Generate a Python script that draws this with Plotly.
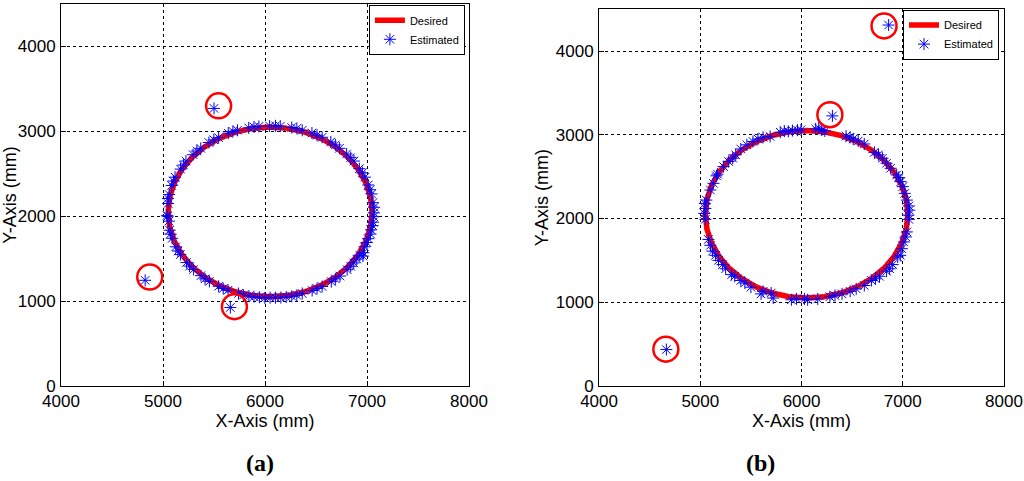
import plotly.graph_objects as go
from plotly.subplots import make_subplots

# desired trajectory (same in both panels)
desired_x = [7050, 7035, 6990, 6916, 6816, 6693, 6550, 6392, 6224, 6050, 5876, 5708,
             5550, 5407, 5284, 5184, 5110, 5065, 5050, 5065, 5110, 5184, 5284, 5407,
             5550, 5708, 5876, 6050, 6224, 6392, 6550, 6693, 6816, 6916, 6990, 7035, 7050]
desired_y = [2050, 2224, 2392, 2550, 2693, 2816, 2916, 2990, 3035, 3050, 3035, 2990,
             2916, 2816, 2693, 2550, 2392, 2224, 2050, 1876, 1708, 1550, 1407, 1284,
             1184, 1110, 1065, 1050, 1065, 1110, 1184, 1284, 1407, 1550, 1708, 1876, 2050]

# panel (a) estimated points
est_a_x = [7068, 7058, 7045, 7012, 6980, 6925, 6872, 6800, 6730, 6645, 6560, 6460, 6365,
           6262, 6150, 6045, 5940, 5840, 5730, 5640, 5545, 5450, 5370, 5295, 5225, 5172,
           5118, 5085, 5060, 5050, 5040, 5058, 5065, 5090, 5125, 5170, 5230, 5300, 5372,
           5455, 5545, 5638, 5740, 5842, 5945, 6050, 6155, 6262, 6365, 6462, 6560, 6650,
           6735, 6805, 6870, 6930, 6975, 7012, 7040, 7060,
           7070, 7030, 6955, 6840, 6690, 6510, 6312, 6103, 5892, 5685, 5498, 5332, 5200,
           5102, 5048, 5045, 5072, 5146, 5260, 5412, 5590, 5788, 5892, 5998, 6103, 6208,
           6312, 6510, 6690, 6840, 6900, 6960, 6965, 6998, 7035, 7055, 7065]
est_a_y = [2040, 2160, 2262, 2368, 2460, 2560, 2650, 2733, 2800, 2875, 2930, 2980, 3012,
           3045, 3060, 3062, 3058, 3040, 3012, 2978, 2925, 2868, 2800, 2725, 2650, 2555,
           2460, 2362, 2255, 2150, 2010, 1942, 1835, 1740, 1640, 1548, 1455, 1372, 1300,
           1232, 1175, 1128, 1090, 1060, 1045, 1040, 1042, 1058, 1090, 1125, 1172, 1230,
           1295, 1370, 1450, 1540, 1640, 1735, 1840, 1930,
           2105, 2312, 2512, 2690, 2840, 2955, 3035, 3065, 3052, 3000, 2900, 2768, 2603,
           2415, 2210, 2000, 1790, 1590, 1412, 1262, 1148, 1070, 1052, 1038, 1040, 1048,
           1068, 1148, 1262, 1410, 1495, 1530, 1570, 1690, 1790, 1890, 1995]
# panel (a) outliers and their marking circles
out_a_x = [5500, 4825, 5660]
out_a_y = [3270, 1245, 925]
ring_a_x = [5545, 4870, 5700]
ring_a_y = [3300, 1285, 935]

# panel (b) estimated points
est_b_x = [5790, 5830, 5870, 5910, 5960, 5995, 6140, 6170, 6200, 6230,
           6440, 6480, 6510, 6560, 6620, 6720, 6760, 6800, 6840, 6880,
           6940, 6960, 6980, 7000, 7020, 7040, 7060, 7065, 7055, 7060,
           7040, 7030, 7010, 6990, 6975, 6950, 6900, 6870, 6840, 6770,
           6730, 6690, 6620, 6540, 6480, 6400, 6330, 6280, 6160, 6060,
           6030, 5950, 5900, 5720, 5700, 5620, 5600, 5500, 5440, 5400,
           5340, 5310, 5250, 5220, 5180, 5150, 5120, 5100, 5080, 5050,
           5040, 5050, 5045, 5060, 5100, 5130, 5170, 5160, 5230, 5280,
           5320, 5350, 5400, 5460, 5520, 5570, 5620, 5690]
est_b_y = [3030, 3045, 3040, 3050, 3055, 3060, 3070, 3080, 3055, 3045,
           2985, 2970, 2950, 2925, 2890, 2790, 2760, 2720, 2660, 2600,
           2520, 2490, 2440, 2380, 2300, 2220, 2150, 2100, 2040, 1990,
           1840, 1780, 1720, 1640, 1560, 1540, 1450, 1400, 1370, 1310,
           1280, 1260, 1200, 1160, 1130, 1100, 1080, 1065, 1040, 1030,
           1040, 1040, 1030, 1050, 1110, 1130, 1100, 1180, 1230, 1260,
           1310, 1330, 1400, 1450, 1500, 1560, 1610, 1680, 1750, 1990,
           2060, 2120, 2180, 2220, 2340, 2420, 2530, 2510, 2620, 2680,
           2720, 2760, 2830, 2880, 2920, 2950, 2970, 2980]
out_b_x = [4665, 6305, 6860]
out_b_y = [435, 3225, 4310]
ring_b_x = [4660, 6280, 6815]
ring_b_y = [440, 3240, 4300]

fig = make_subplots(rows=1, cols=2)

panels = [(desired_x, desired_y, est_a_x + out_a_x, est_a_y + out_a_y, ring_a_x, ring_a_y, 'legend'),
          (desired_x, desired_y, est_b_x + out_b_x, est_b_y + out_b_y, ring_b_x, ring_b_y, 'legend2')]
for i, (dx, dy, ex, ey, rx, ry, leg) in enumerate(panels):
    col = i + 1
    fig.add_trace(go.Scatter(x=dx, y=dy, mode='lines', name='Desired',
                             line=dict(color='#ff0000', width=5.5), legend=leg),
                  row=1, col=col)
    fig.add_trace(go.Scatter(x=ex, y=ey, mode='markers', name='Estimated',
                             marker=dict(symbol='asterisk-open', size=10, color='#0000ff',
                                         line=dict(color='#0000ff', width=1)),
                             legend=leg),
                  row=1, col=col)
    fig.add_trace(go.Scatter(x=rx, y=ry, mode='markers', showlegend=False,
                             marker=dict(symbol='circle-open', size=25, color='#ff0000',
                                         line=dict(color='#ff0000', width=2.5))),
                  row=1, col=col)

axis_style = dict(showline=True, linecolor='black', linewidth=1, mirror=True,
                  ticks='inside', ticklen=5, tickcolor='black', automargin=False,
                  showgrid=True, gridcolor='black', griddash='dot', gridwidth=1,
                  zeroline=False, tickfont=dict(size=17, color='black'),
                  title_font=dict(size=18, color='black'))

fig.update_xaxes(axis_style, range=[4000, 8000], tickvals=[4000, 5000, 6000, 7000, 8000],
                 title_text='X-Axis (mm)', title_standoff=2, ticklabelstandoff=0)
fig.update_yaxes(axis_style, range=[0, 4500], tickvals=[0, 1000, 2000, 3000, 4000],
                 title_text='Y-Axis (mm)', title_standoff=4, ticklabelstandoff=1)
fig.update_yaxes(title_standoff=2, row=1, col=2)

fig.update_layout(
    width=1024, height=481,
    margin=dict(l=0, r=0, t=0, b=0),
    paper_bgcolor='white', plot_bgcolor='white',
    font=dict(family='Liberation Sans, Arial, sans-serif', color='black'),
    xaxis=dict(domain=[0.0596, 0.458]),
    yaxis=dict(domain=[0.1975, 0.9917]),
    xaxis2=dict(domain=[0.585, 0.9805]),
    yaxis2=dict(domain=[0.1975, 0.981]),
    legend=dict(x=0.454, y=0.99, xanchor='right', yanchor='top',
                bgcolor='white', bordercolor='black', borderwidth=1,
                font=dict(size=11), itemwidth=30, tracegroupgap=0),
    legend2=dict(x=0.9756, y=0.98, xanchor='right', yanchor='top',
                 bgcolor='white', bordercolor='black', borderwidth=1,
                 font=dict(size=11), itemwidth=30, tracegroupgap=0),
    annotations=[
        dict(text='<b>(a)</b>', x=0.238, y=0.037, xref='paper', yref='paper',
             yanchor='middle', showarrow=False,
             font=dict(family='Liberation Serif, Times New Roman, serif', size=24)),
        dict(text='<b>(b)</b>', x=0.759, y=0.037, xref='paper', yref='paper',
             yanchor='middle', showarrow=False,
             font=dict(family='Liberation Serif, Times New Roman, serif', size=24)),
    ],
)

# drop the default page margin so the figure sits at the window's corner
fig.write_html("out.html", config={'displayModeBar': False},
               post_script="document.body.style.margin='0';")
